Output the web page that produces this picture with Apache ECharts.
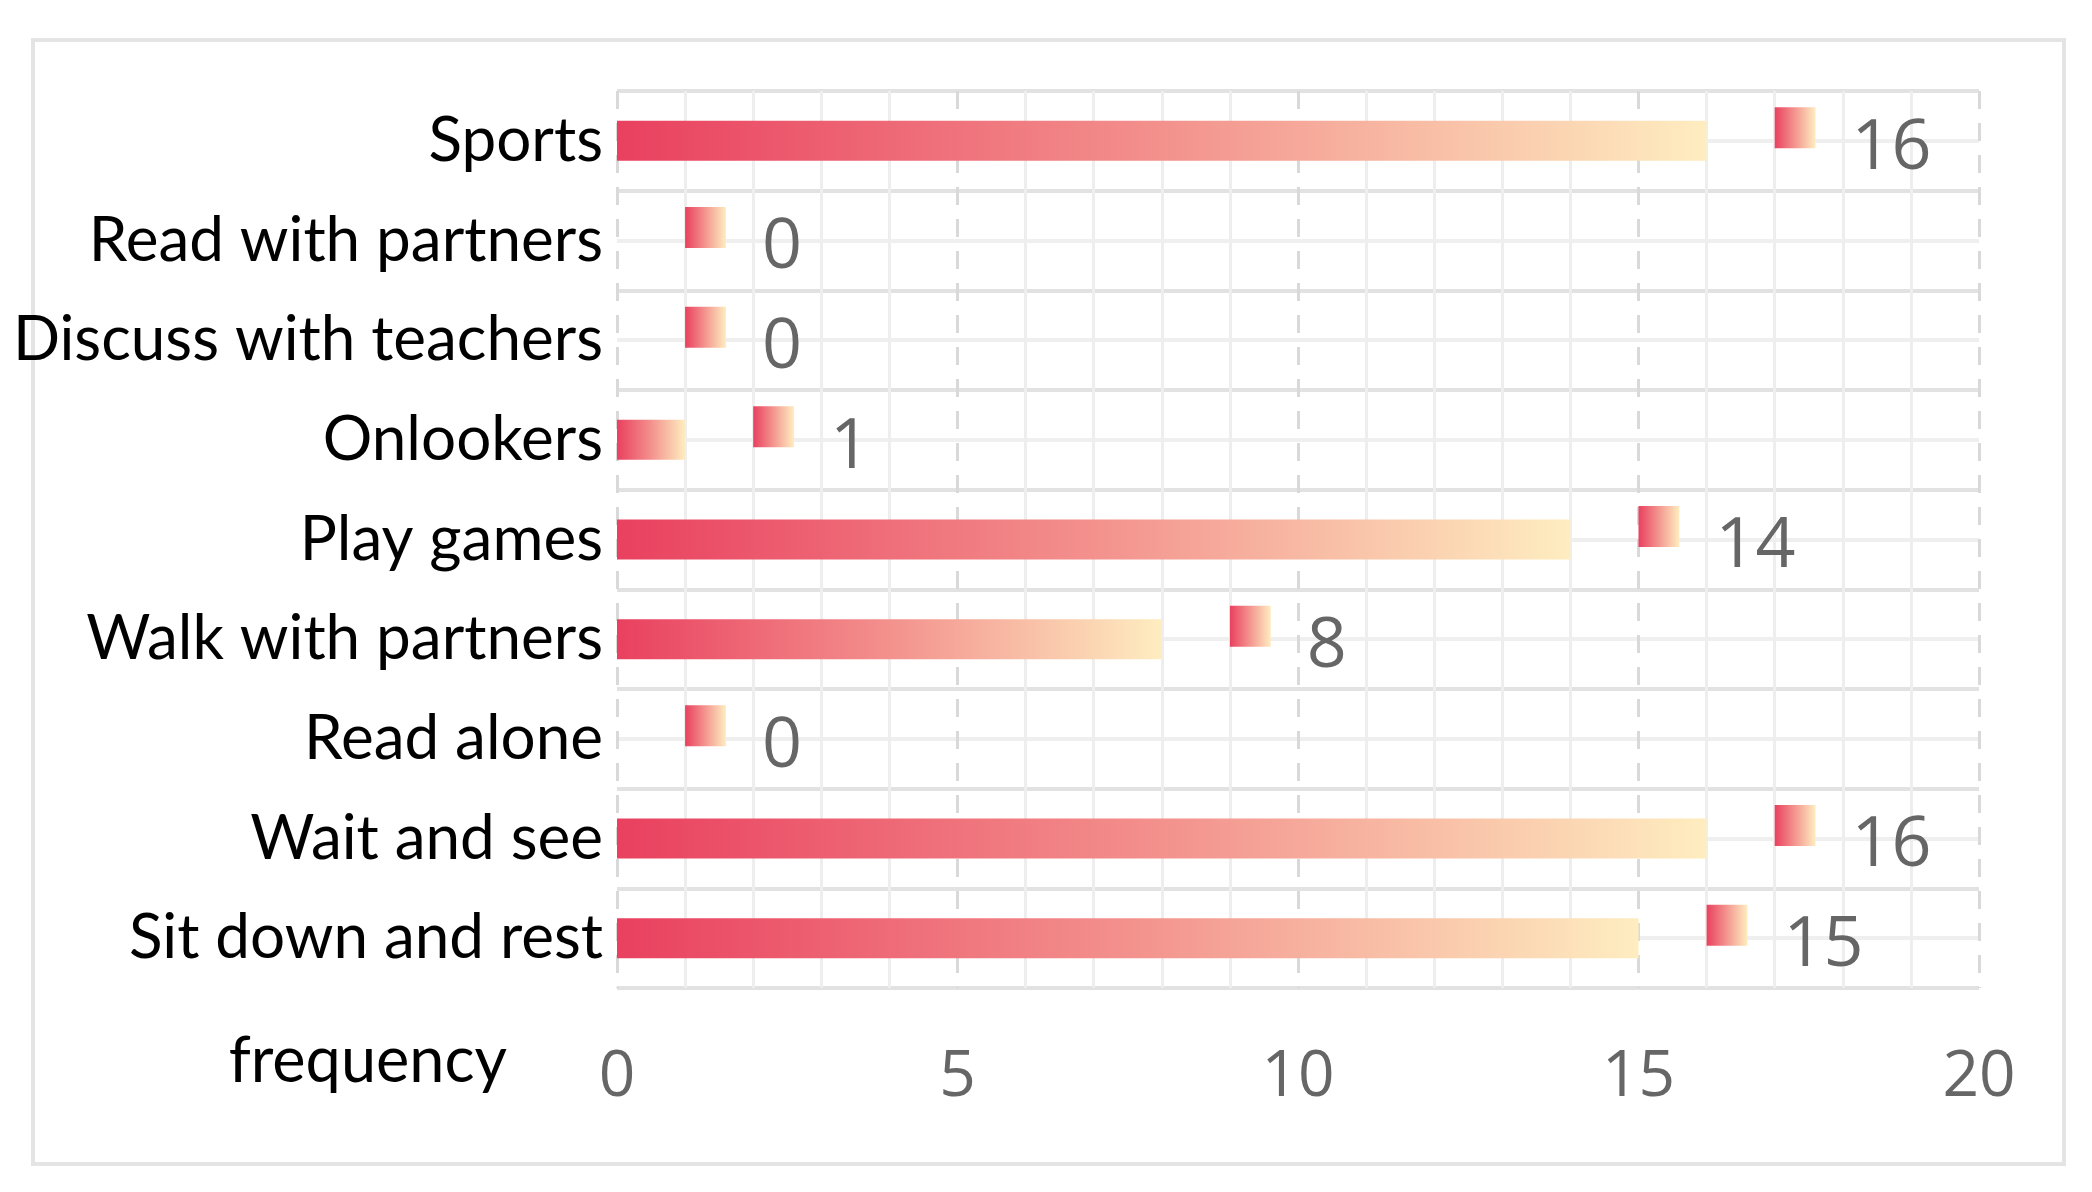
<!DOCTYPE html>
<html>
<head>
<meta charset="utf-8">
<script src="https://cdn.jsdelivr.net/npm/echarts@6/dist/echarts.min.js"></script>
<style>
html,body{margin:0;padding:0;background:#fff;}
#chart{width:2092px;height:1192px;}
</style>
</head>
<body>
<div id="chart"></div>
<script>
const categories = ['Sports','Read with partners','Discuss with teachers','Onlookers','Play games','Walk with partners','Read alone','Wait and see','Sit down and rest'];
const frequency = [16,0,0,1,14,8,0,16,15];
const axisName = 'frequency';
const xMin = 0, xMax = 20, xInterval = 5;

const chart = echarts.init(document.getElementById('chart'));
const barGrad = () => new echarts.graphic.LinearGradient(0,0,1,0,[
  {offset:0,color:'#e9405f'},{offset:0.5,color:'#f3918d'},{offset:1,color:'#feedc0'}]);

const option = {
  backgroundColor:'#fff',
  animation:false,
  graphic:[{type:'rect',shape:{x:33,y:40,width:2031,height:1124},style:{fill:'none',stroke:'#e4e4e4',lineWidth:4},z:-10}],
  grid:{left:617,right:113,top:91,bottom:204,containLabel:false,outerBoundsMode:'none'},
  xAxis:{
    type:'value',min:xMin,max:xMax,interval:xInterval,
    name:axisName,nameLocation:'start',nameGap:110,
    nameTextStyle:{fontFamily:'Lato, sans-serif',fontSize:63,color:'#000',verticalAlign:'top',padding:[42,0,0,0]},
    axisLine:{show:false},axisTick:{show:false},
    axisLabel:{fontFamily:'Open Sans, sans-serif',fontSize:64,color:'#666',margin:58},
    splitLine:{show:true,lineStyle:{color:'#d9d9d9',width:3,type:[18,14]}},
    minorTick:{show:false,splitNumber:5},
    minorSplitLine:{show:true,lineStyle:{color:'#eeeeee',width:3}}
  },
  yAxis:[{
    type:'category',data:categories,inverse:true,
    axisLine:{show:false},axisTick:{show:false},
    axisLabel:{fontFamily:'Lato, sans-serif',fontSize:62,color:'#000',margin:14},
    splitLine:{show:false}
  },{
    type:'value',min:0,max:9,interval:1,position:'left',
    axisLine:{show:false},axisTick:{show:false},axisLabel:{show:false},
    splitLine:{show:true,lineStyle:{color:'#e2e2e2',width:4}},
    minorTick:{show:false,splitNumber:2},
    minorSplitLine:{show:true,lineStyle:{color:'#efefef',width:4}}
  }],
  series:[{
    type:'bar',yAxisIndex:0,data:frequency,barWidth:40,
    itemStyle:{color:barGrad()},z:3
  },{
    type:'custom',yAxisIndex:0,z:4,
    data:frequency.map((v,i)=>[v,i]),
    encode:{x:0,y:1},
    renderItem:function(params,api){
      const v=api.value(0), idx=api.value(1);
      const end=api.coord([v,idx]);
      const a=api.coord([v+1,idx]);
      const b=api.coord([v+1.6,idx]);
      return {type:'group',children:[
        {type:'rect',shape:{x:a[0],y:end[1]-13-20.5,width:b[0]-a[0],height:41},
         style:{fill:new echarts.graphic.LinearGradient(0,0,1,0,[{offset:0,color:'#e9405f'},{offset:1,color:'#feedc0'}])}},
        {type:'text',x:end[0]+145,y:end[1]+8,
         style:{text:String(v),fontFamily:'Open Sans, sans-serif',fontSize:70,fill:'#666',verticalAlign:'middle',align:'left'}}
      ]};
    }
  }]
};
chart.setOption(option);
</script>
</body>
</html>
